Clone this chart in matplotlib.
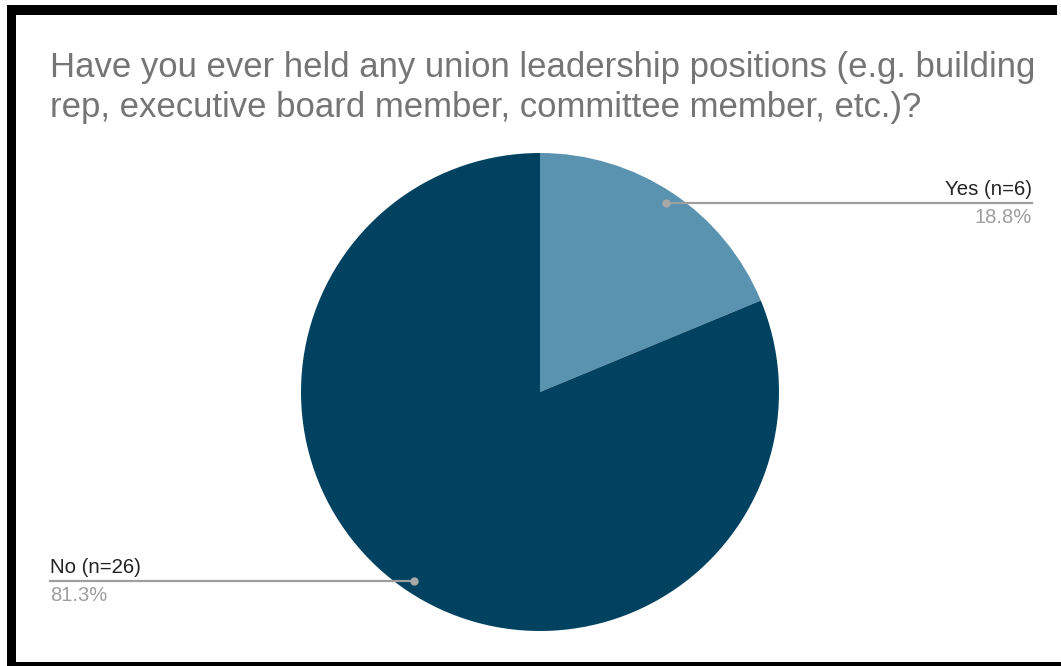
import math
import matplotlib
matplotlib.use("Agg")
import matplotlib.pyplot as plt
from matplotlib.patches import Rectangle
from matplotlib.lines import Line2D

plt.rcParams['font.family'] = ['Liberation Sans', 'DejaVu Sans']

title = "Have you ever held any union leadership positions (e.g. building\nrep, executive board member, committee member, etc.)?"
categories = ["Yes", "No"]
counts = [6, 26]
colors = ["#5a93b0", "#00425f"]

W, H = 1061, 666
fig = plt.figure(figsize=(W / 100, H / 100), dpi=100)
fig.patch.set_facecolor("white")

# Frame edges
for (x0, y0, w, h) in [(7, 5, 1050, 10), (7, 5, 9, 661), (7, 662, 1054, 4)]:
    fig.add_artist(Rectangle((x0 / W, 1 - (y0 + h) / H), w / W, h / H,
                             transform=fig.transFigure, facecolor="black",
                             edgecolor="none", zorder=10))

fig.text(50 / W, 1 - 51 / H, title, fontsize=25, color="#757575",
         ha="left", va="top", linespacing=1.25)

cx, cy, r = 540, 392, 239
ax = fig.add_axes([(cx - r) / W, (H - cy - r) / H, 2 * r / W, 2 * r / H])
wedges, _ = ax.pie(counts, colors=colors, startangle=90, counterclock=False,
                   radius=1.0, wedgeprops=dict(linewidth=0))
ax.set_xlim(-1, 1)
ax.set_ylim(-1, 1)
ax.set_aspect("equal")
ax.axis("off")

total = sum(counts)
fig.canvas.draw()
to_fig = ax.transData + fig.transFigure.inverted()
line_col = "#9e9e9e"
for i, (cat, n, wdg) in enumerate(zip(categories, counts, wedges)):
    pct = math.floor(n / total * 1000 + 0.5) / 10
    mid = math.radians((wdg.theta1 + wdg.theta2) / 2)
    px, py = to_fig.transform((0.95 * math.cos(mid), 0.95 * math.sin(mid)))
    right = math.cos(mid) > 0
    end_x = 1032 / W if right else 50 / W
    fig.add_artist(Line2D([px, end_x], [py, py], transform=fig.transFigure,
                          color=line_col, linewidth=1.6, zorder=5))
    fig.add_artist(Line2D([px], [py], transform=fig.transFigure, marker="o",
                          markersize=6, color="#a8a8a8", markeredgewidth=0, zorder=6))
    ha = "right" if right else "left"
    fig.text(end_x, py + 4 / H, f"{cat} (n={n})", fontsize=14.7, color="#222222",
             ha=ha, va="bottom")
    fig.text(end_x, py - 5 / H, f"{pct:.1f}%", fontsize=14.5, color="#9e9e9e",
             ha=ha, va="top")

fig.savefig("out.png", dpi=100, facecolor="white")
